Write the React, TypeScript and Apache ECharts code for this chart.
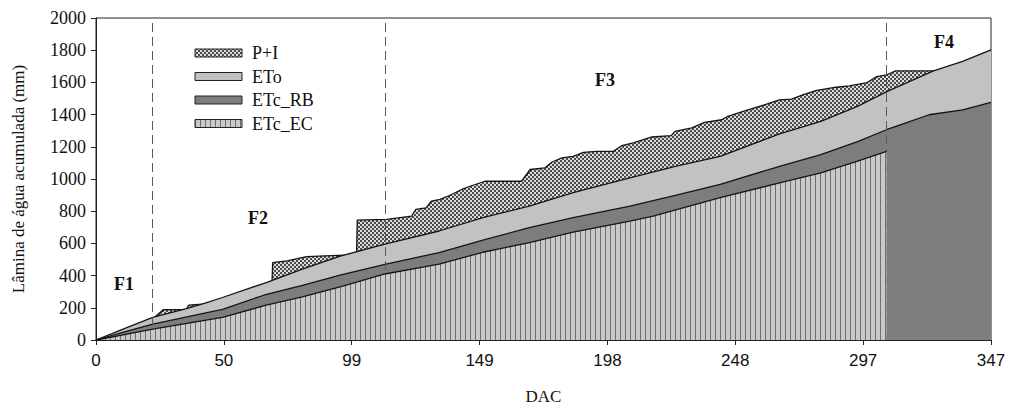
import React, { useEffect, useRef } from 'react';
import * as echarts from 'echarts';

// ---------- data ----------
const seriesNames = ['P+I', 'ETo', 'ETc_RB', 'ETc_EC'];
const phaseLabels = ['F1', 'F2', 'F3', 'F4'];
const phaseBounds = [22, 112, 306.5];
const xMax = 347;
const xTickCount = 7;
const yMax = 2000;
const yStep = 200;

const piData: number[][] = [
  [0, 0], [10, 55], [22, 130], [26, 188], [35, 190], [36, 217], [41, 223], [45, 228], [60, 235],
  [68, 240], [68.5, 481], [74, 491], [81.7, 518], [94, 526], [101, 528], [101.3, 745], [112.7, 749],
  [122.4, 770], [124, 811], [128, 821], [130, 863], [133.4, 873], [136, 890], [141.8, 935], [145, 955],
  [150.8, 986], [165, 986], [168.3, 1059], [174, 1069], [176.7, 1104], [180.6, 1131], [185, 1141],
  [189, 1166], [194, 1172], [200.6, 1172], [203.8, 1207], [208.3, 1224], [215.5, 1261], [223, 1269],
  [224.5, 1296], [231, 1317], [236, 1352], [242.6, 1368], [245, 1389], [249.7, 1414], [254, 1435],
  [260, 1465], [265, 1492], [269.7, 1496], [274, 1523], [279.4, 1550], [287, 1570], [292, 1578],
  [299, 1599], [302.7, 1636], [306.6, 1647], [309.8, 1671], [325, 1671],
];

const etoData: number[][] = [
  [0, 0], [10, 64], [22, 140], [35, 195], [42, 227], [49, 264], [66, 357], [80, 440], [95, 522],
  [112, 595], [133, 677], [150, 760], [168, 832], [185, 915], [207, 1007], [225, 1080], [242, 1141],
  [265, 1280], [281, 1358], [295, 1450], [306.6, 1543], [324.7, 1671], [336, 1730], [347, 1802],
];

const rbData: number[][] = [
  [0, 0], [10, 46], [22, 99], [49, 190], [65, 278], [80, 340], [95, 405], [112, 470], [133, 543],
  [150, 620], [168, 698], [185, 760], [207, 832], [225, 900], [242, 966], [265, 1079], [281, 1152],
  [295, 1230], [306.5, 1306], [314, 1348], [323, 1399], [336, 1430], [347, 1476],
];

const ecData: number[][] = [
  [0, 0], [10, 30], [22, 68], [49, 140], [66, 217], [80, 268], [95, 332], [112, 410], [133, 471],
  [150, 545], [168, 605], [185, 670], [207, 739], [216, 770], [242, 884], [265, 976], [281, 1038],
  [295, 1110], [306.5, 1172],
];

// ---------- styles ----------
const SERIF = "'Liberation Serif', 'Times New Roman', serif";
const SANS = "'Liberation Sans', Arial, sans-serif";

function checkerPattern() {
  const c = document.createElement('canvas');
  c.width = 4; c.height = 4;
  const ctx = c.getContext('2d')!;
  ctx.fillStyle = '#dcdcdc'; ctx.fillRect(0, 0, 4, 4);
  ctx.fillStyle = '#4a4a4a'; ctx.fillRect(0, 0, 2, 2); ctx.fillRect(2, 2, 2, 2);
  return { image: c, repeat: 'repeat', imageWidth: 4, imageHeight: 4 } as any;
}
function stripePattern() {
  const c = document.createElement('canvas');
  c.width = 5; c.height = 4;
  const ctx = c.getContext('2d')!;
  ctx.fillStyle = '#c9c9c9'; ctx.fillRect(0, 0, 5, 4);
  ctx.fillStyle = '#6e6e6e'; ctx.fillRect(0, 0, 1, 4);
  return { image: c, repeat: 'repeat', imageWidth: 5, imageHeight: 4 } as any;
}

export default function App() {
  const ref = useRef<HTMLDivElement>(null);
  useEffect(() => {
    if (!ref.current) return;
    const chart = echarts.init(ref.current, undefined, { renderer: 'svg' });
    const fills = [checkerPattern(), '#c2c2c2', '#7d7d7d', stripePattern()];
    const datas = [piData, etoData, rbData, ecData];
    const lineW = 1.3;

    const series: any[] = datas.map((d, i) => ({
      name: seriesNames[i],
      type: 'line',
      data: d,
      showSymbol: false,
      symbol: 'none',
      silent: true,
      z: 2 + i,
      lineStyle: { color: '#151515', width: lineW },
      areaStyle: { color: fills[i], opacity: 1 },
    }));
    series[3].markLine = {
      silent: true,
      symbol: 'none',
      label: { show: false },
      lineStyle: { color: '#5a5a5a', width: 1, type: [9, 5] },
      data: phaseBounds.map((b) => ({ xAxis: b })),
    };

    const legendTop = 49;
    const legendGap = 23.5;
    const legendEls: any[] = [];
    seriesNames.forEach((n, i) => {
      const y = legendTop + i * legendGap;
      legendEls.push({
        type: 'rect',
        shape: { x: 195, y, width: 47, height: 8 },
        style: { fill: fills[i], stroke: '#222', lineWidth: 1 },
        z: 10,
      });
      legendEls.push({
        type: 'text',
        x: 252, y: y + 4,
        style: { text: n, font: `18px ${SERIF}`, fill: '#111', verticalAlign: 'middle', align: 'left' },
        z: 10,
      });
    });
    const fPos = [[124, 284], [258, 218], [605, 80], [944, 42]];
    phaseLabels.forEach((t, i) => {
      legendEls.push({
        type: 'text',
        x: fPos[i][0], y: fPos[i][1],
        style: { text: t, font: `bold 18px ${SERIF}`, fill: '#111', align: 'center', verticalAlign: 'middle' },
        z: 10,
      });
    });

    chart.setOption({
      animation: false,
      grid: { left: 96, right: 19, top: 18, bottom: 69, show: true, borderColor: '#222', borderWidth: 1 },
      xAxis: {
        type: 'value', min: 0, max: xMax, interval: xMax / xTickCount,
        name: 'DAC', nameLocation: 'middle', nameGap: 48,
        nameTextStyle: { fontFamily: SERIF, fontSize: 17, color: '#111' },
        axisLine: { lineStyle: { color: '#222', width: 1 } },
        axisTick: { show: true, length: 5, lineStyle: { color: '#222' } },
        axisLabel: {
          fontFamily: SANS, fontSize: 17, color: '#111', margin: 12,
          formatter: (v: number) => String(Math.round(v)),
        },
        splitLine: { show: false },
      },
      yAxis: {
        type: 'value', min: 0, max: yMax, interval: yStep,
        name: 'Lâmina de água acumulada (mm)', nameLocation: 'middle', nameGap: 69,
        nameTextStyle: { fontFamily: SERIF, fontSize: 17, color: '#111' },
        axisLine: { show: true, lineStyle: { color: '#222', width: 1 } },
        axisTick: { show: true, length: 5, lineStyle: { color: '#222' } },
        axisLabel: {
          fontFamily: SERIF, fontSize: 18, color: '#111', margin: 10,
          formatter: (v: number) => String(v),
        },
        splitLine: { show: false },
      },
      series,
      graphic: legendEls,
    });
    return () => chart.dispose();
  }, []);
  return <div ref={ref} style={{ position: 'fixed', left: 0, top: 0, width: 1010, height: 410, background: '#fff' }} />;
}
